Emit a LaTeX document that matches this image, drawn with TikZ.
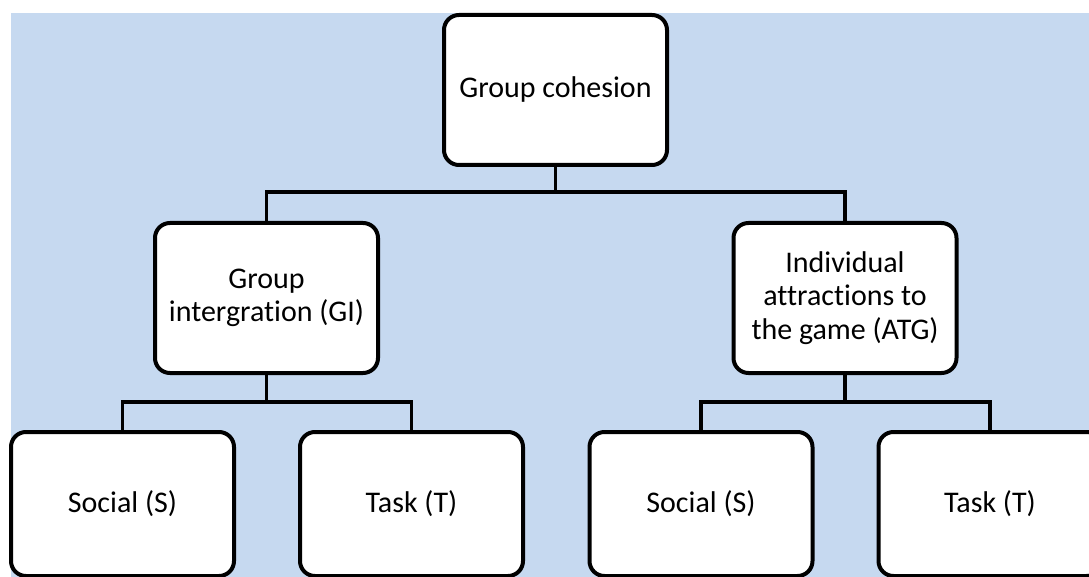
\documentclass[tikz,border=0pt]{standalone}
\usepackage{fontspec}
\setmainfont{Carlito}[RawFeature=-liga]
\definecolor{panel}{HTML}{C6D9F0}
\begin{document}
\begin{tikzpicture}[x=1pt,y=-1pt,
  box/.style={draw=black, line width=4pt, fill=white, rounded corners=15pt,
    minimum width=223pt, minimum height=150pt, align=center, inner sep=0pt,
    font=\fontsize{30}{33.5}\selectfont},
  leaf/.style={box, minimum height=144pt},
  link/.style={draw=black, line width=3.5pt}]
\useasboundingbox (0,0) rectangle (1089,577);
\clip (0,0) rectangle (1089,577);
\fill[panel] (11,13) rectangle (1089,577);

% hierarchy boxes
\node[box] (gc)  at (555.5,90) {Group cohesion};
\node[box] (gi)  at (266.5,298) {Group\\intergration (GI)};
\node[box] (atg) at (845,298) {Individual\\attractions to\\the game (ATG)};
\node[leaf] (s1) at (122.5,504) {Social (S)};
\node[leaf] (t1) at (411.5,504) {Task (T)};
\node[leaf] (s2) at (701,504) {Social (S)};
\node[leaf] (t2) at (990,504) {Task (T)};

% connector junctions
\coordinate (j0) at (555.5,192);
\coordinate (j1) at (266.5,402);
\coordinate (j2) at (845,402);

\draw[link] (gc.south) -- (j0);
\draw[link] (gi.north) |- (j0) -| (atg.north);
\draw[link] (gi.south) -- (j1);
\draw[link] (s1.north) |- (j1) -| (t1.north);
\draw[link] (atg.south) -- (j2);
\draw[link] (s2.north) |- (j2) -| (t2.north);
\end{tikzpicture}
\end{document}
